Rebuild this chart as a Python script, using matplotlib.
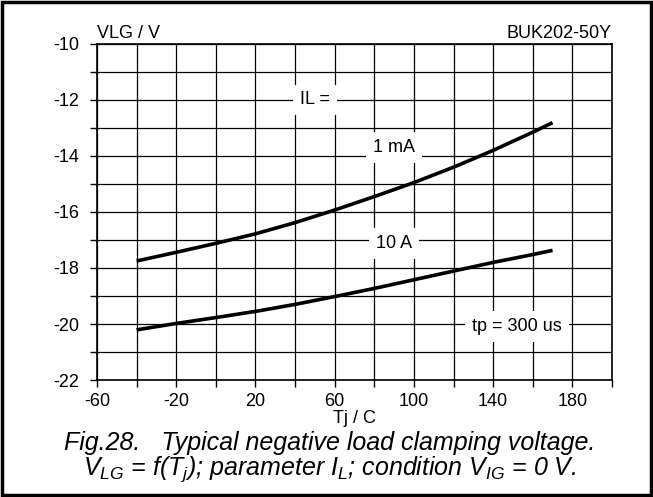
import matplotlib
matplotlib.use('Agg')
import matplotlib.pyplot as plt
from matplotlib.patches import Rectangle

plt.rcParams['font.family'] = ['Liberation Sans', 'DejaVu Sans']
plt.rcParams['mathtext.fontset'] = 'custom'
plt.rcParams['mathtext.it'] = 'Liberation Sans:italic'
plt.rcParams['mathtext.rm'] = 'Liberation Sans:italic'

# junction temperature (C) and clamping voltage (V)
tj = [-40, -20, 0, 20, 40, 60, 80, 100, 120, 140, 160, 170]
vlg_1mA = [-17.75, -17.44, -17.12, -16.78, -16.38, -15.93, -15.45, -14.95, -14.40, -13.80, -13.15, -12.81]
vlg_10A = [-20.21, -19.98, -19.77, -19.55, -19.30, -19.02, -18.73, -18.42, -18.11, -17.80, -17.52, -17.37]

x_ticks = list(range(-60, 201, 20))
x_labels = ['-60', '', '-20', '', '20', '', '60', '', '100', '', '140', '', '180', '']
y_ticks = list(range(-22, -9, 1))
y_labels = ['-22', '', '-20', '', '-18', '', '-16', '', '-14', '', '-12', '', '-10']

fig = plt.figure(figsize=(6.53, 4.97), dpi=100)
ax = fig.add_axes([0.1485, 0.2354, 0.7887, 0.6761])

ax.plot(tj, vlg_1mA, color='black', lw=2.6, solid_capstyle='butt', zorder=3)
ax.plot(tj, vlg_10A, color='black', lw=2.6, solid_capstyle='butt', zorder=3)

ax.set_xlim(-60, 200)
ax.set_ylim(-22, -10)
ax.set_xticks(x_ticks)
ax.set_xticklabels(x_labels)
ax.set_yticks(y_ticks)
ax.set_yticklabels(y_labels)
ax.tick_params(direction='out', length=5, width=1, labelsize=13)
ax.tick_params(axis='x', pad=4)
ax.tick_params(axis='y', pad=8)
ax.grid(True, color='black', lw=0.9)
for s in ax.spines.values():
    s.set_linewidth(1.2)

ax.set_xlabel('Tj / C', fontsize=13, labelpad=0)
ax.text(0.0, 1.005, 'VLG / V', transform=ax.transAxes, fontsize=13, ha='left', va='bottom')
ax.text(1.0, 1.005, 'BUK202-50Y', transform=ax.transAxes, fontsize=13, ha='right', va='bottom')

box = dict(facecolor='white', edgecolor='none', pad=5)
ax.text(50, -12.0, 'IL =', fontsize=13, ha='center', va='center', bbox=box, zorder=4)
ax.text(90, -13.7, '1 mA', fontsize=13, ha='center', va='center', bbox=box, zorder=4)
ax.text(90, -17.12, '10 A', fontsize=13, ha='center', va='center', bbox=box, zorder=4)
ax.text(152, -20.1, 'tp = 300 us', fontsize=13, ha='center', va='center', bbox=box, zorder=4)

fig.text(0.505, 1 - 443 / 497, 'Fig.28.   Typical negative load clamping voltage.',
         fontsize=18, style='italic', ha='center', va='center')
fig.text(0.505, 1 - 469 / 497, r'$V_{LG}$ = f($T_j$); parameter $I_L$; condition $V_{IG}$ = 0 V.',
         fontsize=18, style='italic', ha='center', va='center')

fig.patches.append(Rectangle((0.003, 0.004), 0.994, 0.992, transform=fig.transFigure,
                             fill=False, edgecolor='black', lw=2.5))

fig.savefig('out.png', dpi=100)
